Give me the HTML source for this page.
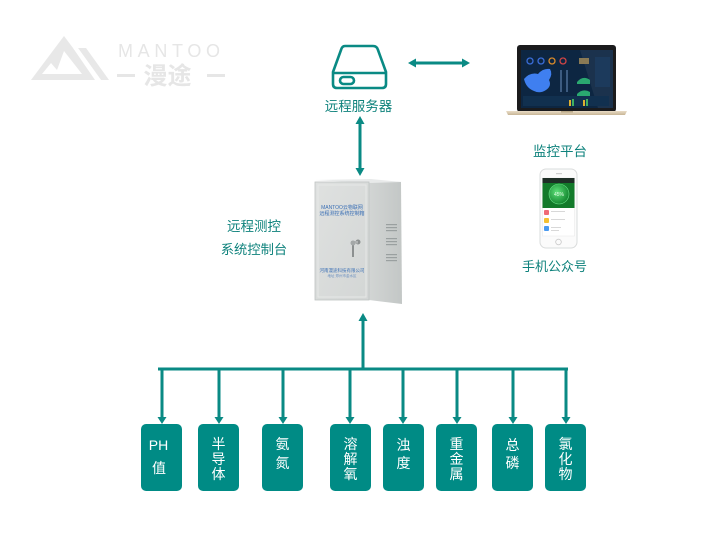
<!DOCTYPE html>
<html><head><meta charset="utf-8"><style>
html,body{margin:0;padding:0;background:#fff;}
svg{display:block;}
text{font-family:"Liberation Sans","Noto Sans CJK SC",sans-serif;}
</style></head><body>
<svg width="720" height="540" viewBox="0 0 720 540" xmlns="http://www.w3.org/2000/svg">
<defs>
<linearGradient id="base" x1="0" y1="0" x2="0" y2="1"><stop offset="0" stop-color="#e9dcc6"/><stop offset="1" stop-color="#c8b596"/></linearGradient>
<linearGradient id="front" x1="0" y1="0" x2="1" y2="1"><stop offset="0" stop-color="#dfe1e0"/><stop offset="1" stop-color="#d3d6d5"/></linearGradient>
<linearGradient id="side" x1="0" y1="0" x2="1" y2="0"><stop offset="0" stop-color="#d2d5d4"/><stop offset="1" stop-color="#c3c7c6"/></linearGradient>
<radialGradient id="gball" cx="0.4" cy="0.4" r="0.6"><stop offset="0" stop-color="#5fe07a"/><stop offset="1" stop-color="#168a32"/></radialGradient>
</defs>
<rect width="720" height="540" fill="#fff"/>

<!-- Logo -->
<polygon points="31,80 64,36 97,80" fill="#e8e8e8"/>
<polygon points="42,74 51,63 57,70 64,51 82,74" fill="#ffffff"/>
<polygon points="78,48 86,48 109,80 101,80" fill="#e8e8e8"/>
<polygon points="73,48 78,48 101,80 95,80" fill="#ffffff"/>
<text x="118" y="57" font-size="18" fill="#e6e6e6" textLength="102" lengthAdjust="spacing">MANTOO</text>
<rect x="117" y="74" width="18" height="3" fill="#e6e6e6"/>
<rect x="207" y="74" width="18" height="3" fill="#e6e6e6"/>
<text x="167.5" y="84" font-size="24" font-weight="bold" fill="#e6e6e6" text-anchor="middle">漫途</text>

<!-- Server icon -->
<g fill="none" stroke="#0a8a84" stroke-width="2.6" stroke-linejoin="round">
  <path d="M345,46 L373,46 Q377,46 378,50 L386,72 L386,84 Q386,88 382,88 L337,88 Q333,88 333,84 L333,72 L341,50 Q342,46 345,46 Z"/>
  <path d="M333,73 L386,73"/>
  <rect x="340" y="77" width="14" height="7" rx="3.5"/>
</g>
<text x="358.5" y="111" font-size="13.5" fill="#0e827c" text-anchor="middle">远程服务器</text>

<!-- Horizontal double arrow -->
<rect x="415" y="61.5" width="48" height="3" fill="#0a8a84"/>
<polygon points="408,63 416,58.5 416,67.5" fill="#0a8a84"/>
<polygon points="470,63 462,58.5 462,67.5" fill="#0a8a84"/>

<!-- Laptop -->
<rect x="517" y="45" width="99" height="67" rx="3" fill="#1b1b1d"/>
<rect x="521" y="50" width="92" height="58" fill="#0d2642"/>
<polygon points="580,50 613,50 613,108 598,108" fill="#ffffff" opacity="0.06"/>
<circle cx="530" cy="61" r="3" fill="none" stroke="#3a6dd8" stroke-width="1.3"/>
<circle cx="541" cy="61" r="3" fill="none" stroke="#3a6dd8" stroke-width="1.3"/>
<circle cx="552" cy="61" r="3" fill="none" stroke="#d98a2a" stroke-width="1.3"/>
<circle cx="563" cy="61" r="3" fill="none" stroke="#d04545" stroke-width="1.3"/>
<path d="M524,79 Q530,72 538,74 Q543,68 550,69 Q553,74 549,80 Q552,86 546,90 Q540,94 534,91 Q526,88 524,79 Z" fill="#3f7ff0"/>
<rect x="560" y="70" width="2" height="22" fill="#3c5b80"/>
<rect x="566" y="70" width="2" height="22" fill="#3c5b80"/>
<rect x="579" y="58" width="10" height="6" fill="#8a7a55"/>
<path d="M577,82 Q583,75 590,80 L590,84 L577,84 Z" fill="#2aa870"/>
<path d="M577,94 Q583,88 590,92 L590,96 L577,96 Z" fill="#2aa870"/>
<rect x="595" y="57" width="15" height="30" fill="#1c3a5c"/>
<rect x="523" y="96" width="86" height="10" fill="#11304f"/>
<rect x="583" y="100" width="2" height="6" fill="#e0b030"/>
<rect x="586" y="99" width="2" height="7" fill="#40b060"/>
<rect x="569" y="100" width="2" height="6" fill="#e0b030"/>
<rect x="572" y="99" width="2" height="7" fill="#40b060"/>
<polygon points="506,111 627,111 625,115 508,115" fill="url(#base)"/>
<rect x="561" y="111" width="12" height="1.5" fill="#b9a888"/>

<!-- Server <-> cabinet arrow -->
<rect x="358.5" y="123" width="3" height="46" fill="#0a8a84"/>
<polygon points="360,116 355.5,124 364.5,124" fill="#0a8a84"/>
<polygon points="360,176 355.5,168 364.5,168" fill="#0a8a84"/>

<!-- Cabinet -->
<polygon points="369,181 401,182 402,304 369,300" fill="url(#side)"/>
<polygon points="315,180 371,179 402,182 369,183" fill="#e8eaea"/>
<rect x="315" y="182" width="54" height="118" fill="url(#front)" stroke="#bfc3c2" stroke-width="0.8"/>
<rect x="318" y="185" width="48" height="112" fill="none" stroke="#e6e8e7" stroke-width="1"/>
<g fill="#9aa0a0">
  <rect x="386" y="224" width="11" height="1.2"/><rect x="386" y="227" width="11" height="1.2"/><rect x="386" y="230" width="11" height="1.2"/>
  <rect x="386" y="238" width="11" height="1.2"/><rect x="386" y="241" width="11" height="1.2"/><rect x="386" y="244" width="11" height="1.2"/>
  <rect x="386" y="254" width="11" height="1.2"/><rect x="386" y="257" width="11" height="1.2"/><rect x="386" y="260" width="11" height="1.2"/>
</g>
<text x="342" y="209" font-size="5" fill="#3a6fb5" text-anchor="middle">MANTOO云物联网</text>
<text x="342" y="215" font-size="5" fill="#3a6fb5" text-anchor="middle">远程测控系统控制箱</text>
<text x="342" y="272" font-size="4.5" fill="#3a6fb5" text-anchor="middle">河南漫途科技有限公司</text>
<text x="342" y="277" font-size="3.5" fill="#6a8fc0" text-anchor="middle">地址 郑州市金水区</text>
<circle cx="358" cy="242" r="2.5" fill="#8c9090"/>
<rect x="351" y="241" width="7" height="2.5" fill="#b0b3b3"/>
<rect x="352" y="243" width="2" height="14" fill="#8c9090"/>
<circle cx="353" cy="243" r="2.5" fill="#a4a8a8"/>

<text x="254" y="231" font-size="13.5" fill="#0e827c" text-anchor="middle">远程测控</text>
<text x="254" y="254" font-size="13.3" fill="#0e827c" text-anchor="middle">系统控制台</text>

<!-- Phone -->
<text x="560" y="156" font-size="13.5" fill="#0e827c" text-anchor="middle">监控平台</text>
<rect x="540" y="169" width="37" height="79" rx="6" fill="#fbfbfb" stroke="#dadcdc" stroke-width="1"/>
<rect x="556" y="173" width="6" height="1.2" fill="#cfcfcf"/>
<rect x="542.5" y="178" width="32" height="58" fill="#ffffff" stroke="#e6e6e6" stroke-width="0.5"/>
<rect x="542.5" y="178" width="32" height="5" fill="#1e2e26"/>
<rect x="542.5" y="183" width="32" height="25" fill="#127a2a"/>
<circle cx="559" cy="194" r="10" fill="url(#gball)"/>
<circle cx="559" cy="194" r="10" fill="none" stroke="#6ae088" stroke-width="0.6"/>
<text x="559" y="196" font-size="5" fill="#e8ffe8" text-anchor="middle">45%</text>
<rect x="544" y="210" width="5" height="5" rx="1" fill="#f06a75"/>
<rect x="544" y="218" width="5" height="5" rx="1" fill="#f5c030"/>
<rect x="544" y="226" width="5" height="5" rx="1" fill="#4a9af0"/>
<g fill="#d8d8d8"><rect x="551" y="211" width="14" height="1"/><rect x="551" y="219" width="14" height="1"/><rect x="551" y="227" width="10" height="1"/><rect x="551" y="230" width="8" height="1"/></g>
<circle cx="558.5" cy="242" r="2.8" fill="none" stroke="#c8c8c8" stroke-width="0.8"/>
<text x="554.5" y="271" font-size="13" fill="#0e827c" text-anchor="middle">手机公众号</text>

<!-- Up arrow to cabinet -->
<rect x="361.5" y="320" width="3" height="50" fill="#0a8a84"/>
<polygon points="363,313 358.5,321 367.5,321" fill="#0a8a84"/>

<!-- Bus -->
<rect x="158" y="367.5" width="410" height="3" fill="#0a8a84"/>
<g fill="#0a8a84">
  <rect x="160.5" y="369" width="3" height="49"/><polygon points="162,424 157.5,417 166.5,417"/>
  <rect x="217.5" y="369" width="3" height="49"/><polygon points="219,424 214.5,417 223.5,417"/>
  <rect x="281.5" y="369" width="3" height="49"/><polygon points="283,424 278.5,417 287.5,417"/>
  <rect x="348.5" y="369" width="3" height="49"/><polygon points="350,424 345.5,417 354.5,417"/>
  <rect x="401.5" y="369" width="3" height="49"/><polygon points="403,424 398.5,417 407.5,417"/>
  <rect x="455.5" y="369" width="3" height="49"/><polygon points="457,424 452.5,417 461.5,417"/>
  <rect x="511.5" y="369" width="3" height="49"/><polygon points="513,424 508.5,417 517.5,417"/>
  <rect x="564.5" y="369" width="3" height="49"/><polygon points="566,424 561.5,417 570.5,417"/>
</g>

<!-- Boxes -->
<g fill="#008b85">
  <rect x="141" y="424" width="41" height="67" rx="5"/>
  <rect x="198" y="424" width="41" height="67" rx="5"/>
  <rect x="262" y="424" width="41" height="67" rx="5"/>
  <rect x="330" y="424" width="41" height="67" rx="5"/>
  <rect x="383" y="424" width="41" height="67" rx="5"/>
  <rect x="436" y="424" width="41" height="67" rx="5"/>
  <rect x="492" y="424" width="41" height="67" rx="5"/>
  <rect x="545" y="424" width="41" height="67" rx="5"/>
</g>
<g fill="#ffffff" font-size="14" text-anchor="middle">
  <text x="158.5" y="450">PH</text>
  <text x="159" y="473">值</text>
  <text x="218.5" y="449">半</text><text x="218.5" y="464">导</text><text x="218.5" y="479">体</text>
  <text x="282.5" y="449">氨</text><text x="282.5" y="468">氮</text>
  <text x="350.5" y="449">溶</text><text x="350.5" y="464">解</text><text x="350.5" y="479">氧</text>
  <text x="403.5" y="450">浊</text><text x="403.5" y="468">度</text>
  <text x="456.5" y="449">重</text><text x="456.5" y="464">金</text><text x="456.5" y="479">属</text>
  <text x="512.5" y="450">总</text><text x="512.5" y="468">磷</text>
  <text x="565.5" y="449">氯</text><text x="565.5" y="464">化</text><text x="565.5" y="479">物</text>
</g>
</svg>
</body></html>
